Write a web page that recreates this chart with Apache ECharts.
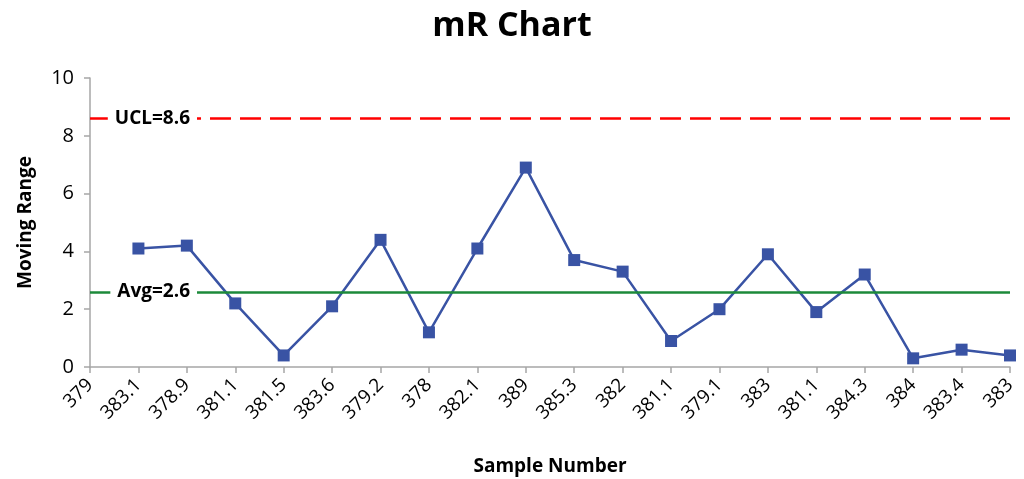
<!DOCTYPE html>
<html>
<head>
<meta charset="utf-8">
<style>
  html, body { margin: 0; padding: 0; background: #fff; }
  #chart { width: 1024px; height: 479px; }
</style>
<script src="https://cdn.jsdelivr.net/npm/echarts@6/dist/echarts.min.js"></script>
</head>
<body>
<div id="chart"></div>
<script>
// Individual sample values (x-axis categories)
const samples = ['379', '383.1', '378.9', '381.1', '381.5', '383.6', '379.2', '378', '382.1', '389',
                 '385.3', '382', '381.1', '379.1', '383', '381.1', '384.3', '384', '383.4', '383'];
// Moving ranges between consecutive samples (none for the first sample)
const movingRange = [null, 4.1, 4.2, 2.2, 0.4, 2.1, 4.4, 1.2, 4.1, 6.9,
                     3.7, 3.3, 0.9, 2.0, 3.9, 1.9, 3.2, 0.3, 0.6, 0.4];
// Control limits
const ucl = 8.6;
const avg = 2.6;

const FONT = '"Open Sans", "Noto Sans", sans-serif';

const chart = echarts.init(document.getElementById('chart'));

function limitLabel(prefix) {
  return {
    show: true,
    position: 'start',
    distance: -107,
    formatter: p => prefix + '=' + Number(p.value).toFixed(1),
    color: '#000',
    fontFamily: FONT,
    fontWeight: 'bold',
    fontSize: 19,
    backgroundColor: '#fff',
    padding: [2, 7, 2, 7]
  };
}

chart.setOption({
  animation: false,
  title: {
    text: 'mR Chart',
    left: 'center',
    top: 4,
    textStyle: { fontFamily: FONT, fontWeight: 'bold', fontSize: 34, color: '#000' }
  },
  grid: { left: 90, right: 14, top: 78, bottom: 112, outerBoundsMode: 'none', containLabel: false },
  xAxis: {
    type: 'category',
    data: samples,
    boundaryGap: false,
    name: 'Sample Number',
    nameLocation: 'middle',
    nameGap: 90,
    nameTextStyle: { fontFamily: FONT, fontWeight: 'bold', fontSize: 19, color: '#000' },
    axisLine: { lineStyle: { color: '#A6A6A6', width: 1.5 } },
    axisTick: { show: true, length: 6, alignWithLabel: true, lineStyle: { color: '#A6A6A6', width: 1.5 } },
    axisLabel: { rotate: 45, interval: 0, margin: 15, fontFamily: FONT, fontSize: 19, color: '#000' },
    splitLine: { show: false }
  },
  yAxis: {
    type: 'value',
    min: 0,
    max: 10,
    interval: 2,
    name: 'Moving Range',
    nameLocation: 'middle',
    nameGap: 55,
    nameRotate: 90,
    nameTextStyle: { fontFamily: FONT, fontWeight: 'bold', fontSize: 19, color: '#000' },
    axisLine: { show: true, lineStyle: { color: '#A6A6A6', width: 1.5 } },
    axisTick: { show: true, length: 6, lineStyle: { color: '#A6A6A6', width: 1.5 } },
    axisLabel: { margin: 16, fontFamily: FONT, fontSize: 20, color: '#000' },
    splitLine: { show: false }
  },
  series: [{
    type: 'line',
    data: movingRange,
    symbol: 'rect',
    symbolSize: 12,
    itemStyle: { color: '#3953A4' },
    lineStyle: { color: '#3953A4', width: 2.5 },
    markLine: {
      silent: true,
      symbol: 'none',
      data: [
        {
          yAxis: ucl,
          lineStyle: { color: '#FF0000', width: 2.5, type: [21, 9] },
          label: limitLabel('UCL')
        },
        {
          yAxis: avg,
          lineStyle: { color: '#1C8A3A', width: 2.5, type: 'solid' },
          label: limitLabel('Avg')
        }
      ]
    }
  }]
});
</script>
</body>
</html>
